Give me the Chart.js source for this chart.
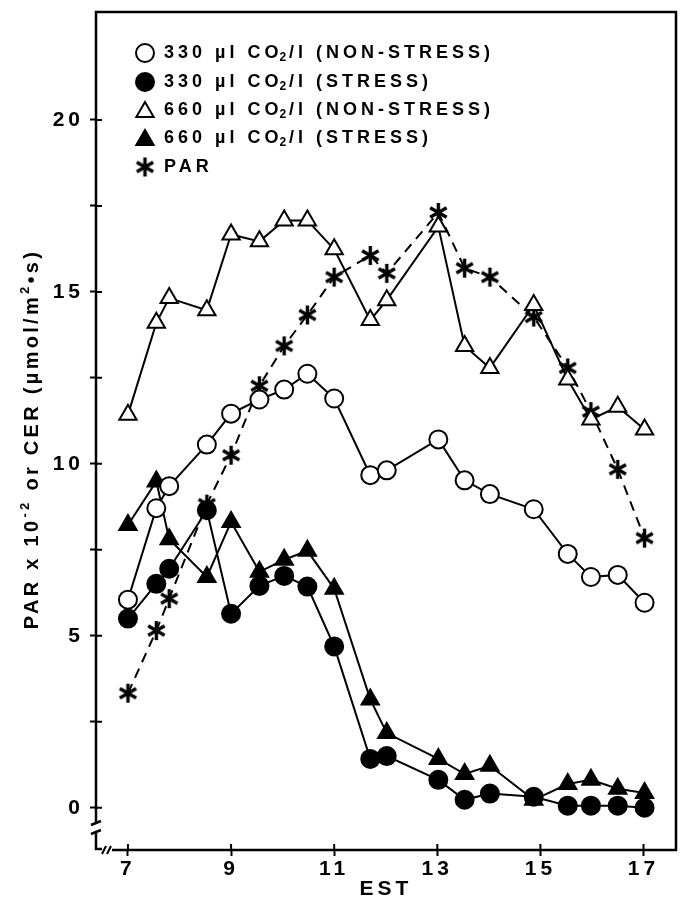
<!DOCTYPE html>
<html><head><meta charset="utf-8">
<script src="https://cdn.jsdelivr.net/npm/chart.js@4.4.1/dist/chart.umd.min.js"></script>
<style>html,body{margin:0;padding:0;background:#fff;}#wrap{width:688px;height:908px;position:relative;}</style>
</head><body><div id="wrap"><canvas id="c" width="688" height="908"></canvas></div>
<script>
// ---- data ----
const times = [7.0, 7.55, 7.8, 8.53, 9.0, 9.55, 10.03, 10.48, 11.0, 11.7, 12.02, 13.02, 13.53, 14.02, 14.87, 15.53, 15.98, 16.5, 17.02];
const co2_330_nonStress = [6.05, 8.71, 9.35, 10.56, 11.46, 11.87, 12.16, 12.62, 11.9, 9.67, 9.81, 10.71, 9.52, 9.12, 8.68, 7.38, 6.71, 6.77, 5.96];
const co2_330_stress = [5.5, 6.51, 6.95, 8.65, 5.64, 6.45, 6.74, 6.43, 4.69, 1.42, 1.5, 0.81, 0.23, 0.41, 0.32, 0.06, 0.06, 0.06, 0.0];
const co2_660_nonStress = [11.43, 14.1, 14.82, 14.47, 16.67, 16.47, 17.08, 17.08, 16.24, 14.18, 14.76, 16.9, 13.43, 12.79, 14.62, 12.45, 11.29, 11.66, 11.0];
const co2_660_stress = [8.22, 9.49, 7.81, 6.71, 8.31, 6.86, 7.21, 7.47, 6.37, 3.15, 2.17, 1.42, 0.98, 1.22, 0.23, 0.69, 0.81, 0.55, 0.43];
const par = [3.33, 5.15, 6.08, 8.83, 10.25, 12.27, 13.43, 14.33, 15.43, 16.06, 15.54, 17.31, 15.69, 15.43, 14.27, 12.79, 11.52, 9.84, 7.84];
const seriesLabels = ['330 µl CO₂/l (NON-STRESS)', '330 µl CO₂/l (STRESS)', '660 µl CO₂/l (NON-STRESS)', '660 µl CO₂/l (STRESS)', 'PAR'];
const xTickValues = [7, 9, 11, 13, 15, 17];
const yTickValues = [0, 2.5, 5, 7.5, 10, 12.5, 15, 17.5, 20];
const xTitle = 'EST';
const yTitleParts = [['PAR x 10', 0], ['-2', 1], [' or CER (µmol/m', 0], ['2', 1], ['•s)', 0]];

// ---- helpers ----
function makeAsterisk(size, lw) {
  const c = document.createElement('canvas');
  c.width = c.height = size;
  const g = c.getContext('2d');
  g.strokeStyle = '#000'; g.lineWidth = lw;
  const cx = size / 2, r = size / 2 - 1;
  for (let k = 0; k < 3; k++) {
    const a = Math.PI / 2 + k * Math.PI / 3;
    g.beginPath();
    g.moveTo(cx + r * Math.cos(a), cx + r * Math.sin(a));
    g.lineTo(cx - r * Math.cos(a), cx - r * Math.sin(a));
    g.stroke();
  }
  return c;
}
const star = makeAsterisk(21, 3.4);
const pts = arr => times.map((t, i) => ({x: t, y: arr[i]}));
const FONT = '"Liberation Sans", Arial, sans-serif';

const base = {showLine: true, tension: 0, borderColor: '#000', borderWidth: 2, pointBorderColor: '#000', pointBorderWidth: 2};
const datasets = [
  Object.assign({}, base, {label: seriesLabels[0], data: pts(co2_330_nonStress), pointStyle: 'circle', pointRadius: 9, pointBackgroundColor: '#fff'}),
  Object.assign({}, base, {label: seriesLabels[1], data: pts(co2_330_stress), pointStyle: 'circle', pointRadius: 9, pointBackgroundColor: '#000'}),
  Object.assign({}, base, {label: seriesLabels[2], data: pts(co2_660_nonStress), pointStyle: 'triangle', pointRadius: 10, pointBackgroundColor: '#fff'}),
  Object.assign({}, base, {label: seriesLabels[3], data: pts(co2_660_stress), pointStyle: 'triangle', pointRadius: 10, pointBackgroundColor: '#000'}),
  Object.assign({}, base, {label: seriesLabels[4], data: pts(par), pointStyle: star, pointRadius: 10, borderDash: [10, 7], pointBackgroundColor: '#000'})
];

// frame, axis breaks, inner tick halves
const framePlugin = {
  id: 'frame',
  beforeDatasetsDraw(chart) {
    const {ctx, chartArea: a, scales} = chart;
    ctx.save();
    ctx.strokeStyle = '#000'; ctx.lineWidth = 2.5; ctx.lineCap = 'butt';
    const L = a.left, R = a.right, T = a.top, B = a.bottom;
    ctx.beginPath();
    ctx.moveTo(L, 823); ctx.lineTo(L, T); ctx.lineTo(R, T); ctx.lineTo(R, B); ctx.lineTo(112, B);
    ctx.stroke();
    // y-axis break
    ctx.beginPath();
    ctx.moveTo(L - 5, 825); ctx.lineTo(L + 5, 821);
    ctx.moveTo(L - 5, 834); ctx.lineTo(L + 5, 830);
    ctx.moveTo(L, 831.5); ctx.lineTo(L, B - 1); ctx.lineTo(L + 6, B - 1);
    ctx.stroke();
    // x-axis break
    ctx.lineWidth = 2;
    ctx.beginPath();
    ctx.moveTo(102, B + 4); ctx.lineTo(106, B - 4);
    ctx.moveTo(107, B + 4); ctx.lineTo(111, B - 4);
    ctx.stroke();
    // inner halves of tick marks
    ctx.lineWidth = 2;
    ctx.beginPath();
    scales.y.ticks.forEach(t => { const y = scales.y.getPixelForValue(t.value); ctx.moveTo(L, y); ctx.lineTo(L + 6, y); });
    scales.x.ticks.forEach(t => { const x = scales.x.getPixelForValue(t.value); ctx.moveTo(x, B); ctx.lineTo(x, B - 6); });
    ctx.stroke();
    ctx.restore();
  }
};

const spacingPlugin = {
  id: 'spacing',
  beforeDraw(chart) { chart.ctx.letterSpacing = '4px'; },
  afterDatasetsDraw(chart) { chart.ctx.letterSpacing = '0px'; }
};

function drawMarker(ctx, style, x, y) {
  ctx.save();
  ctx.strokeStyle = '#000'; ctx.lineWidth = 2;
  if (style === 'oc' || style === 'fc') {
    ctx.beginPath(); ctx.arc(x, y, 9, 0, Math.PI * 2);
    ctx.fillStyle = style === 'oc' ? '#fff' : '#000'; ctx.fill(); ctx.stroke();
  } else if (style === 'ot' || style === 'ft') {
    const r = 10;
    ctx.beginPath();
    ctx.moveTo(x, y - r); ctx.lineTo(x + r * 0.866, y + r / 2); ctx.lineTo(x - r * 0.866, y + r / 2); ctx.closePath();
    ctx.fillStyle = style === 'ot' ? '#fff' : '#000'; ctx.fill(); ctx.stroke();
  } else {
    ctx.drawImage(star, x - star.width / 2, y - star.height / 2);
  }
  ctx.restore();
}

const legendPlugin = {
  id: 'customLegend',
  afterDraw(chart) {
    const {ctx} = chart;
    const styles = ['oc', 'fc', 'ot', 'ft', 'st'];
    const rows = [53, 82, 110, 138, 167];
    ctx.save();
    ctx.fillStyle = '#000';
    ctx.textBaseline = 'middle';
    ctx.letterSpacing = '4px';
    chart.data.datasets.forEach((ds, i) => {
      const y = rows[i];
      drawMarker(ctx, styles[i], 145, y + (i === 2 || i === 3 ? 2 : 0));
      let x = 164;
      const parts = ds.label.split('₂');
      parts.forEach((p, k) => {
        ctx.font = 'bold 18px ' + FONT;
        ctx.fillText(p, x, y);
        x += ctx.measureText(p).width;
        if (k < parts.length - 1) {
          ctx.font = 'bold 12px ' + FONT;
          ctx.letterSpacing = '1px';
          ctx.fillText('2', x - 3, y + 5);
          x += ctx.measureText('2').width - 1;
          ctx.letterSpacing = '4px';
        }
      });
    });
    ctx.restore();
  }
};

const yTitlePlugin = {
  id: 'yTitle',
  afterDraw(chart) {
    const {ctx} = chart;
    ctx.save();
    ctx.translate(32, 439);
    ctx.rotate(-Math.PI / 2);
    ctx.fillStyle = '#000';
    ctx.textBaseline = 'middle';
    ctx.letterSpacing = '3.3px';
    const fontFor = sup => sup ? 'bold 13px ' + FONT : 'bold 20px ' + FONT;
    let total = 0;
    yTitleParts.forEach(([t, sup]) => { ctx.font = fontFor(sup); total += ctx.measureText(t).width; });
    let x = -total / 2;
    yTitleParts.forEach(([t, sup]) => {
      ctx.font = fontFor(sup);
      ctx.fillText(t, x, sup ? -7 : 0);
      x += ctx.measureText(t).width;
    });
    ctx.restore();
  }
};

new Chart(document.getElementById('c'), {
  type: 'line',
  data: {datasets},
  options: {
    responsive: false, animation: false, devicePixelRatio: 1,
    layout: {padding: {top: 8, right: 4, left: 0, bottom: 0}},
    plugins: {legend: {display: false}, tooltip: {enabled: false}},
    scales: {
      x: {
        type: 'linear', min: 6.38, max: 17.63,
        afterFit(s) { s.height = 58; s.paddingLeft = 0; s.paddingRight = 0; },
        afterBuildTicks(s) { s.ticks = xTickValues.map(v => ({value: v})); },
        border: {display: false},
        grid: {drawOnChartArea: false, drawTicks: true, tickLength: 6, tickWidth: 2, color: '#000'},
        ticks: {color: '#000', font: {family: FONT, weight: 'bold', size: 21}, padding: 1, maxRotation: 0, autoSkip: false, callback: v => String(v)},
        title: {display: true, text: xTitle, color: '#000', font: {family: FONT, weight: 'bold', size: 21}, padding: {top: 0, bottom: 6}}
      },
      y: {
        type: 'linear', min: -1.23, max: 23.14,
        afterFit(s) { s.width = 96; s.paddingTop = 0; s.paddingBottom = 0; },
        afterBuildTicks(s) { s.ticks = yTickValues.map(v => ({value: v})); },
        border: {display: false},
        grid: {drawOnChartArea: false, drawTicks: true, tickLength: 6, tickWidth: 2, color: '#000'},
        ticks: {color: '#000', font: {family: FONT, weight: 'bold', size: 21}, padding: 6, autoSkip: false, callback: v => (v % 5 === 0 ? String(v) : '')}
      }
    }
  },
  plugins: [spacingPlugin, framePlugin, legendPlugin, yTitlePlugin]
});
</script>
</body></html>
